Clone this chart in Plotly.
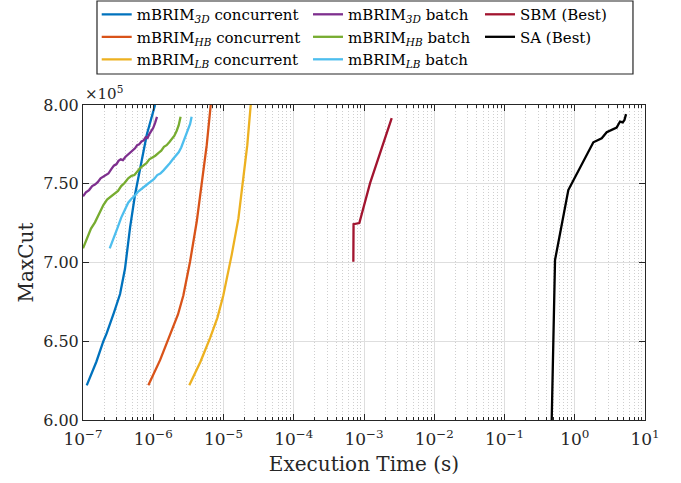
import plotly.graph_objects as go

# ---- data: execution time (s) vs. MaxCut ----
t_3d_conc = [1.13e-7, 1.55e-7, 1.95e-7, 2.17e-7, 2.75e-7, 3.37e-7, 3.96e-7, 4.67e-7, 5.50e-7, 6.48e-7, 8.07e-7, 1.06e-6]
v_3d_conc = [622000, 637000, 650000, 655000, 668000, 680000, 696000, 722000, 743000, 760000, 781000, 800000]

t_hb_conc = [8.51e-7, 1.25e-6, 1.73e-6, 2.25e-6, 2.68e-6, 3.34e-6, 4.16e-6, 4.90e-6, 5.77e-6, 6.58e-6]
v_hb_conc = [622000, 638000, 654000, 667000, 679000, 700500, 726000, 749000, 774500, 800000]

t_lb_conc = [3.26e-6, 4.70e-6, 6.43e-6, 8.20e-6, 9.93e-6, 1.31e-5, 1.63e-5, 1.91e-5, 2.18e-5, 2.44e-5]
v_lb_conc = [622000, 637000, 652000, 665000, 679000, 705000, 728000, 751500, 774500, 800000]

t_3d_batch = [1.00e-7, 1.10e-7, 1.22e-7, 1.35e-7, 1.48e-7, 1.62e-7, 1.78e-7, 1.95e-7, 2.10e-7, 2.30e-7,
              2.50e-7, 2.75e-7, 3.00e-7, 3.20e-7, 3.45e-7, 3.70e-7, 4.00e-7, 4.35e-7, 4.70e-7, 5.10e-7,
              5.50e-7, 5.90e-7, 6.30e-7, 6.80e-7, 7.30e-7, 7.80e-7, 8.30e-7, 8.80e-7, 9.40e-7, 1.00e-6,
              1.06e-6, 1.10e-6, 1.13e-6]
v_3d_batch = [742000, 744500, 746000, 748500, 749500, 751000, 753500, 754500, 755800, 756500,
              759000, 761500, 762500, 764500, 765500, 765000, 767000, 768500, 770000, 771500,
              772500, 774500, 775000, 776800, 777500, 779500, 779000, 781500, 783500, 785500,
              788500, 790500, 792500]

t_hb_batch = [1.00e-7, 1.15e-7, 1.30e-7, 1.48e-7, 1.70e-7, 1.95e-7, 2.20e-7, 2.50e-7, 2.80e-7, 3.15e-7,
              3.50e-7, 3.90e-7, 4.40e-7, 4.90e-7, 5.40e-7, 5.90e-7, 6.50e-7, 7.20e-7, 8.00e-7, 8.80e-7,
              9.70e-7, 1.07e-6, 1.18e-6, 1.30e-6, 1.42e-6, 1.55e-6, 1.70e-6, 1.85e-6, 2.00e-6, 2.15e-6,
              2.30e-6, 2.45e-6]
v_hb_batch = [709000, 716000, 721500, 725500, 731000, 736500, 740000, 741800, 743500, 745500,
              748500, 750500, 753500, 755000, 755500, 757500, 760000, 761500, 763000, 765500,
              766500, 767800, 769500, 771000, 773500, 774500, 776500, 779000, 780500, 783500,
              787000, 792500]

t_lb_batch = [2.40e-7, 2.75e-7, 3.10e-7, 3.50e-7, 3.90e-7, 4.40e-7, 4.90e-7, 5.50e-7, 6.10e-7, 6.80e-7,
              7.60e-7, 8.40e-7, 9.30e-7, 1.03e-6, 1.14e-6, 1.26e-6, 1.40e-6, 1.55e-6, 1.72e-6, 1.90e-6,
              2.10e-6, 2.30e-6, 2.50e-6, 2.70e-6, 2.90e-6, 3.10e-6, 3.35e-6, 3.52e-6]
v_lb_batch = [709000, 715500, 722000, 728500, 733500, 738000, 740500, 742500, 745000, 746500,
              748500, 750000, 751500, 753000, 755500, 756500, 758500, 760500, 763000, 765500,
              768000, 770000, 773000, 776500, 780500, 784000, 788000, 792500]

t_sbm = [7.05e-4, 7.10e-4, 8.58e-4, 1.22e-3, 2.48e-3]
v_sbm = [700500, 724300, 725000, 750400, 791600]

t_sa = [0.47, 0.524, 0.81, 1.26, 1.84, 2.42, 2.85, 3.95, 4.20, 4.41, 4.82, 5.10, 5.37]
v_sa = [600000, 701600, 746000, 761900, 776300, 778900, 782700, 785700, 787800, 789500, 789000, 790500, 794200]

x_tickvals = [1e-7, 1e-6, 1e-5, 1e-4, 1e-3, 1e-2, 1e-1, 1e0, 1e1]
x_ticktext = ["10<sup>\u22127</sup>", "10<sup>\u22126</sup>", "10<sup>\u22125</sup>", "10<sup>\u22124</sup>",
              "10<sup>\u22123</sup>", "10<sup>\u22122</sup>", "10<sup>\u22121</sup>", "10<sup>0</sup>", "10<sup>1</sup>"]
y_tickvals = [600000, 650000, 700000, 750000, 800000]
y_ticktext = ["6.00", "6.50", "7.00", "7.50", "8.00"]

FONT = "DejaVu Serif"
INK = "#262626"

series = [
    ("mBRIM<sub><i>3D</i></sub> concurrent", t_3d_conc, v_3d_conc, "#0072BD", "legend"),
    ("mBRIM<sub><i>HB</i></sub> concurrent", t_hb_conc, v_hb_conc, "#D95319", "legend"),
    ("mBRIM<sub><i>LB</i></sub> concurrent", t_lb_conc, v_lb_conc, "#EDB120", "legend"),
    ("mBRIM<sub><i>3D</i></sub> batch", t_3d_batch, v_3d_batch, "#7E2F8E", "legend2"),
    ("mBRIM<sub><i>HB</i></sub> batch", t_hb_batch, v_hb_batch, "#77AC30", "legend2"),
    ("mBRIM<sub><i>LB</i></sub> batch", t_lb_batch, v_lb_batch, "#4DBEEE", "legend2"),
    ("SBM (Best)", t_sbm, v_sbm, "#A2142F", "legend3"),
    ("SA (Best)", t_sa, v_sa, "#000000", "legend3"),
]

fig = go.Figure()
for name, t, v, color, lg in series:
    fig.add_trace(go.Scatter(x=t, y=v, mode="lines", name=name,
                             line=dict(color=color, width=2.3), legend=lg))

# minor ticks 2..9 within every decade
minor_vals = [m * 10.0 ** e for e in range(-7, 1) for m in range(2, 10)]

fig.update_xaxes(
    type="log", range=[-7, 1],
    tickvals=x_tickvals, ticktext=x_ticktext,
    ticks="inside", ticklen=6, tickcolor=INK, tickwidth=1,
    showline=True, linecolor=INK, linewidth=1, mirror="allticks",
    showgrid=True, gridcolor="#dedede", gridwidth=1.2,
    minor=dict(tickvals=minor_vals, ticks="inside", ticklen=3, tickcolor=INK,
               showgrid=True, gridcolor="#cfcfcf", griddash="1px,2px", gridwidth=1),
    tickfont=dict(family=FONT, size=17, color=INK), ticklabelstandoff=4,
    title=dict(text="Execution Time (s)", font=dict(family=FONT, size=20, color=INK), standoff=8),
)
fig.update_yaxes(
    range=[600000, 800000],
    tickvals=y_tickvals, ticktext=y_ticktext,
    ticks="inside", ticklen=6, tickcolor=INK, tickwidth=1,
    showline=True, linecolor=INK, linewidth=1, mirror="allticks",
    showgrid=True, gridcolor="#dedede", gridwidth=1.2, zeroline=False,
    tickfont=dict(family=FONT, size=16, color=INK),
    title=dict(text="MaxCut", font=dict(family=FONT, size=20, color=INK), standoff=4),
)

legend_common = dict(bgcolor="rgba(0,0,0,0)", borderwidth=0, orientation="v",
                     font=dict(family=FONT, size=15, color="#000000"),
                     xanchor="left", yanchor="top", y=1.3395, tracegroupgap=0)
fig.update_layout(
    width=681, height=483,
    font=dict(family=FONT, color=INK),
    margin=dict(l=83, r=36, t=105, b=63, autoexpand=False),
    plot_bgcolor="white", paper_bgcolor="white",
    legend=dict(x=0.0244, **legend_common),
    legend2=dict(x=0.4004, **legend_common),
    legend3=dict(x=0.7064, **legend_common),
    shapes=[dict(type="rect", xref="paper", yref="paper",
                 x0=0.0249, x1=0.9786, y0=1.0984, y1=1.3302,
                 line=dict(color=INK, width=1.2), fillcolor="rgba(0,0,0,0)")],
    annotations=[dict(text="\u00d710<sup>5</sup>", xref="paper", yref="paper",
                      x=0.0, y=1.0, xanchor="left", yanchor="bottom", showarrow=False,
                      font=dict(family=FONT, size=15, color=INK))],
)

fig.write_html("out.html")
